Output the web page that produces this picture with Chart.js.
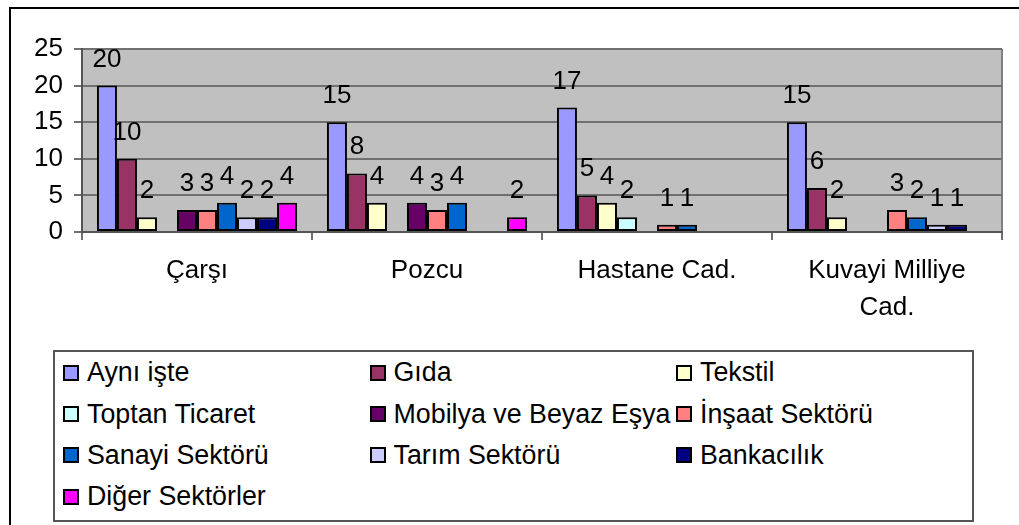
<!DOCTYPE html>
<html lang="tr">
<head>
<meta charset="utf-8">
<title>Sektörlere göre dağılım</title>
<script src="https://cdn.jsdelivr.net/npm/chart.js@4/dist/chart.umd.min.js"></script>
<style>
  html, body { margin: 0; padding: 0; background: #fff; }
  body {
    width: 1019px; height: 525px; position: relative; overflow: hidden;
    font-family: 'Liberation Sans', Arial, sans-serif;
  }
  /* outer chart frame, only left and top edges fall inside the picture */
  #frame {
    position: absolute; left: 9px; top: 7px; width: 1100px; height: 600px;
    border-left: 2px solid #000; border-top: 2px solid #000; box-sizing: border-box;
  }
  #chart { position: absolute; left: 0; top: 0; }
  #legend {
    position: absolute; left: 53px; top: 350px; width: 921px; height: 172px;
    border: 2px solid #555; box-sizing: border-box; background: #fff;
    padding-left: 8px;
    display: grid; grid-template-columns: repeat(3, 306.5px); grid-auto-rows: 41.4px;
  }
  .item { display: flex; align-items: center; font-size: 26.8px; color: #000; white-space: nowrap; }
  .swatch {
    width: 16px; height: 16px; box-sizing: border-box; border: 2px solid #000;
    margin-right: 8px; flex: none;
  }
</style>
</head>
<body>
<div id="frame"></div>
<canvas id="chart" width="1019" height="340"></canvas>
<div id="legend"></div>
<script>
// Dağılım: caddelere göre sektörler

const categories = ['Çarşı', 'Pozcu', 'Hastane Cad.', ['Kuvayi Milliye', 'Cad.']];

const seriesNames = [
  'Aynı işte', 'Gıda', 'Tekstil', 'Toptan Ticaret', 'Mobilya ve Beyaz Eşya',
  'İnşaat Sektörü', 'Sanayi Sektörü', 'Tarım Sektörü', 'Bankacılık', 'Diğer Sektörler',
];

const ayniIste      = [20, 15, 17, 15];
const gida          = [10, 8, 5, 6];
const tekstil       = [2, 4, 4, 2];
const toptanTicaret = [null, null, 2, null];
const mobilya       = [3, 4, null, null];
const insaat        = [3, 3, 1, 3];
const sanayi        = [4, 4, 1, 2];
const tarim         = [2, null, null, 1];
const bankacilik    = [2, null, null, 1];
const diger         = [4, 2, null, null];

const seriesValues = [ayniIste, gida, tekstil, toptanTicaret, mobilya, insaat, sanayi, tarim, bankacilik, diger];

const seriesColors = [
  '#9999ff', '#993366', '#ffffcc', '#ccffff', '#660066',
  '#ff8080', '#0066cc', '#ccccff', '#000080', '#ff00ff',
];

const yTicks = [0, 5, 10, 15, 20, 25];

const FONT = "'Liberation Sans', Arial, sans-serif";
Chart.defaults.font.family = FONT;
Chart.defaults.font.size = 26;
Chart.defaults.color = '#000';

// Gray plot area with a thin frame on the right.
const plotFrame = {
  id: 'plotFrame',
  beforeDraw(chart) {
    const { ctx, chartArea: a } = chart;
    ctx.save();
    ctx.fillStyle = '#c0c0c0';
    ctx.fillRect(a.left, a.top, a.width, a.height);
    ctx.strokeStyle = '#808080';
    ctx.lineWidth = 2;
    ctx.beginPath();
    ctx.moveTo(a.right, a.top);
    ctx.lineTo(a.right, a.bottom);
    ctx.stroke();
    ctx.restore();
  },
};

// Value above every bar, Excel style.
const valueLabels = {
  id: 'valueLabels',
  afterDatasetsDraw(chart) {
    const { ctx } = chart;
    ctx.save();
    ctx.font = '26px ' + FONT;
    ctx.fillStyle = '#000';
    ctx.textAlign = 'center';
    ctx.textBaseline = 'alphabetic';
    chart.data.datasets.forEach((ds, i) => {
      chart.getDatasetMeta(i).data.forEach((bar, j) => {
        const v = ds.data[j];
        if (v == null) return;
        ctx.fillText(String(v), bar.x, bar.y - 19);
      });
    });
    ctx.restore();
  },
};

const chart = new Chart(document.getElementById('chart'), {
  type: 'bar',
  data: {
    labels: categories,
    datasets: seriesNames.map((name, i) => ({
      label: name,
      data: seriesValues[i],
      backgroundColor: seriesColors[i],
      borderColor: '#000',
      borderWidth: 2,
      borderSkipped: false,
      categoryPercentage: 0.87,
      barPercentage: 1.0,
    })),
  },
  options: {
    responsive: false,
    animation: false,
    layout: { padding: { top: 49, right: 17, left: 0, bottom: 0 } },
    plugins: {
      legend: { display: false },
      tooltip: { enabled: true },
    },
    scales: {
      x: {
        grid: { offset: true, drawOnChartArea: false, tickLength: 8, color: '#707070', lineWidth: 2 },
        border: { color: '#555', width: 2 },
        ticks: {
          autoSkip: false, maxRotation: 0, minRotation: 0, padding: 13,
          font: { size: 26, lineHeight: 1.4 },
        },
        afterFit: (scale) => { scale.height = 108; },
      },
      y: {
        min: 0,
        max: 25,
        afterBuildTicks: (scale) => { scale.ticks = yTicks.map((v) => ({ value: v })); },
        grid: { color: '#707070', lineWidth: 2, tickLength: 8 },
        border: { color: '#555', width: 2 },
        ticks: { padding: 11, font: { size: 26 } },
        afterFit: (scale) => { scale.width = 82; },
      },
    },
  },
  plugins: [plotFrame, valueLabels],
});

// HTML legend in three columns, built from the chart's datasets.
const legendEl = document.getElementById('legend');
chart.data.datasets.forEach((ds) => {
  const item = document.createElement('div');
  item.className = 'item';
  const sw = document.createElement('span');
  sw.className = 'swatch';
  sw.style.background = ds.backgroundColor;
  const txt = document.createElement('span');
  txt.textContent = ds.label;
  item.appendChild(sw);
  item.appendChild(txt);
  legendEl.appendChild(item);
});
</script>
</body>
</html>
